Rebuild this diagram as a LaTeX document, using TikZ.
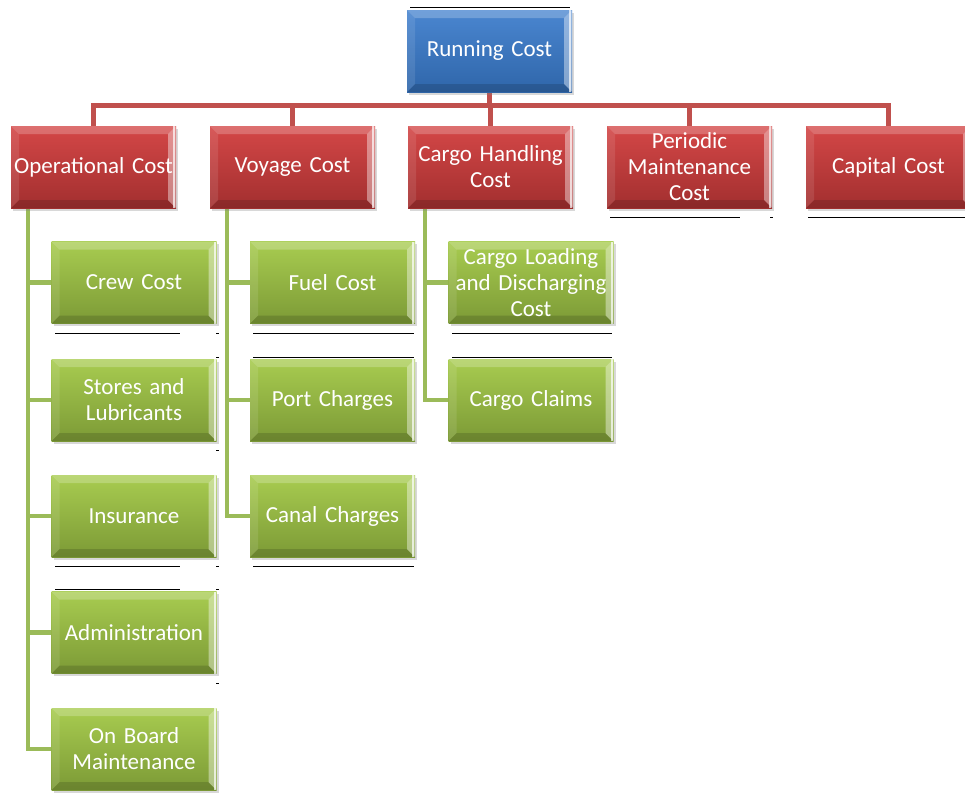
\documentclass[tikz,border=0pt]{standalone}
\usepackage{fontspec}
\setmainfont{Carlito}
\usetikzlibrary{shadows,backgrounds}
\definecolor{bluetop}{HTML}{4A86D0}
\definecolor{bluebot}{HTML}{2F66AA}
\definecolor{redtop}{HTML}{D44747}
\definecolor{redbot}{HTML}{A22F2F}
\definecolor{greentop}{HTML}{A8CC50}
\definecolor{greenbot}{HTML}{7C9A36}
\definecolor{redline}{HTML}{C0504D}
\definecolor{greenline}{HTML}{9BBB59}
\newcommand{\boxfont}{\fontsize{23}{26}\selectfont}
\tikzset{
  bevelbox/.style={
    minimum width=165pt, minimum height=82pt, inner sep=0pt,
    text width=162pt, align=center, text=white, font=\boxfont,
    top color=#1top, bottom color=#1bot,
    drop shadow={opacity=0.3, shadow xshift=2pt, shadow yshift=-2.5pt},
    path picture={
      \fill[white, opacity=0.22]
        (path picture bounding box.north west) -- (path picture bounding box.north east)
        -- ([shift={(-8pt,-8pt)}]path picture bounding box.north east)
        -- ([shift={(8pt,-8pt)}]path picture bounding box.north west) -- cycle;
      \fill[black, opacity=0.14]
        (path picture bounding box.south west) -- (path picture bounding box.south east)
        -- ([shift={(-8pt,8pt)}]path picture bounding box.south east)
        -- ([shift={(8pt,8pt)}]path picture bounding box.south west) -- cycle;
      \fill[white, opacity=0.10]
        (path picture bounding box.north west) -- (path picture bounding box.south west)
        -- ([shift={(8pt,8pt)}]path picture bounding box.south west)
        -- ([shift={(8pt,-8pt)}]path picture bounding box.north west) -- cycle;
      \fill[white, opacity=0.40]
        (path picture bounding box.north east) -- (path picture bounding box.south east)
        -- ([shift={(-8pt,8pt)}]path picture bounding box.south east)
        -- ([shift={(-8pt,-8pt)}]path picture bounding box.north east) -- cycle;
      \fill[white, opacity=0.7]
        ([xshift=-3pt]path picture bounding box.north east) rectangle
        ([xshift=-1pt]path picture bounding box.south east);
    }},
  redconn/.style={draw=redline, line width=5pt},
  greenconn/.style={draw=greenline, line width=4.5pt},
  artifact/.style={draw=black, line width=1pt}
}
\begin{document}
\begin{tikzpicture}[x=1pt,y=-1pt]
\useasboundingbox (0,0) rectangle (965,796);

% top
\node[bevelbox=blue] (root) at (489.5,51) {Running Cost};

% level 1
\node[bevelbox=red] (op)    at (93.5,167)  {Operational Cost};
\node[bevelbox=red] (voy)   at (292.5,167) {Voyage Cost};
\node[bevelbox=red] (cargo) at (490.5,167) {Cargo Handling\\Cost};
\node[bevelbox=red] (per)   at (689.5,167) {Periodic\\Maintenance\\Cost};
\node[bevelbox=red] (cap)   at (888.5,167) {Capital Cost};

% operational children
\node[bevelbox=green] (crew)   at (134,282.5) {Crew Cost};
\node[bevelbox=green] (stores) at (134,400)   {Stores and\\Lubricants};
\node[bevelbox=green] (ins)    at (134,516)   {Insurance};
\node[bevelbox=green] (adm)    at (134,632.5) {Administration};
\node[bevelbox=green] (onb)    at (134,749)   {On Board\\Maintenance};

% voyage children
\node[bevelbox=green] (fuel)  at (332.5,282.5) {Fuel Cost};
\node[bevelbox=green] (port)  at (332.5,400)   {Port Charges};
\node[bevelbox=green] (canal) at (332.5,516)   {Canal Charges};

% cargo children
\node[bevelbox=green] (load)   at (531,282.5) {Cargo Loading\\and Discharging\\Cost};
\node[bevelbox=green] (claims) at (531,400)   {Cargo Claims};

\coordinate (bar) at (0,105);

\begin{pgfonlayer}{background}
  \fill[white] (0,0) rectangle (965,796);
  \draw[redconn] (root.south) -- (root.south |- bar);
  \foreach \c in {op,voy,cargo,per,cap}
    \draw[redconn] (root.south |- bar) -| (\c.north);
  \foreach \c in {crew,stores,ins,adm,onb}
    \draw[greenconn] ([xshift=17pt]op.south west) |- (\c.west);
  \foreach \c in {fuel,port,canal}
    \draw[greenconn] ([xshift=17pt]voy.south west) |- (\c.west);
  \foreach \c in {load,claims}
    \draw[greenconn] ([xshift=17pt]cargo.south west) |- (\c.west);
\end{pgfonlayer}

% rendering artefact lines seen in the reference
\draw[artifact] (410,7) -- (570,7);
\draw[artifact] (610,217) -- (740,217);
\draw[artifact] (770,217) -- (773,217);
\draw[artifact] (808,217) -- (965,217);
\foreach \yy in {333,566,589}
  \draw[artifact] (55,\yy) -- (180,\yy);
\foreach \yy in {333,357,450,566,589,683}
  \draw[artifact] (216,\yy) -- (219,\yy);
\foreach \yy in {333,357,566}
  \draw[artifact] (253,\yy) -- (414,\yy);
\foreach \yy in {333,357}
  \draw[artifact] (452,\yy) -- (612,\yy);
\end{tikzpicture}
\end{document}
